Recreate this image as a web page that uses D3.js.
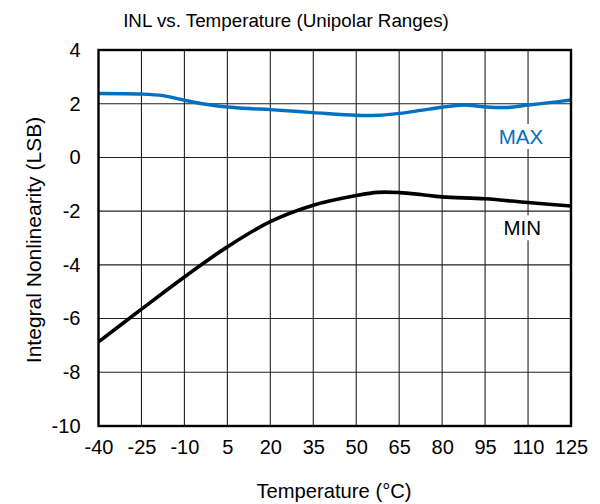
<!DOCTYPE html>
<html>
<head>
<meta charset="utf-8">
<script src="https://cdn.jsdelivr.net/npm/d3@7"></script>
<style>
  body { margin: 0; background: #fff; }
  text { font-family: "Liberation Sans", Arial, sans-serif; fill: #000; }
</style>
</head>
<body>
<svg width="600" height="504"></svg>
<script>
const xTicks = [-40, -25, -10, 5, 20, 35, 50, 65, 80, 95, 110, 125];
const yTicks = [-10, -8, -6, -4, -2, 0, 2, 4];

const maxTemp = [-40, -25, -17.5, -10, -2.5, 5, 12.5, 20, 35, 50, 57.5, 65, 72.5, 80, 87.5, 95, 102.5, 110, 117.5, 125];
const maxInl  = [2.38, 2.36, 2.30, 2.13, 1.98, 1.88, 1.82, 1.78, 1.67, 1.57, 1.57, 1.64, 1.75, 1.87, 1.95, 1.88, 1.86, 1.95, 2.04, 2.14];

const minTemp = [-40, -25, -10, 5, 20, 35, 50, 57.5, 65, 72.5, 80, 95, 110, 125];
const minInl  = [-6.87, -5.65, -4.45, -3.33, -2.39, -1.78, -1.42, -1.30, -1.31, -1.38, -1.47, -1.54, -1.68, -1.81];

const svg = d3.select("svg");
const pL = 98.5, pR = 571, pT = 50, pB = 426;

const x = d3.scaleLinear().domain([-40, 125]).range([pL, pR]);
const y = d3.scaleLinear().domain([-10, 4]).range([pB, pT]);

// grid
svg.append("g").selectAll("line")
  .data(xTicks.slice(1, -1))
  .enter().append("line")
  .attr("x1", d => x(d)).attr("x2", d => x(d))
  .attr("y1", pT).attr("y2", pB)
  .attr("stroke", "#222").attr("stroke-width", 1.1);

svg.append("g").selectAll("line")
  .data(yTicks.slice(1, -1))
  .enter().append("line")
  .attr("x1", pL).attr("x2", pR)
  .attr("y1", d => y(d)).attr("y2", d => y(d))
  .attr("stroke", "#222").attr("stroke-width", 1.1);

// series
const line = d3.line()
  .x(d => x(d[0]))
  .y(d => y(d[1]))
  .curve(d3.curveCatmullRom.alpha(0.5));

svg.append("path")
  .datum(d3.zip(maxTemp, maxInl))
  .attr("d", line)
  .attr("fill", "none")
  .attr("stroke", "#0070C0")
  .attr("stroke-width", 3.4);

svg.append("path")
  .datum(d3.zip(minTemp, minInl))
  .attr("d", line)
  .attr("fill", "none")
  .attr("stroke", "#000")
  .attr("stroke-width", 3.6);

// series labels with white backing
function label(txt, tx, ty, color) {
  const g = svg.append("g");
  const t = g.append("text")
    .attr("x", x(tx)).attr("y", y(ty))
    .attr("text-anchor", "middle")
    .attr("font-size", 20.5)
    .style("fill", color)
    .text(txt);
  const b = t.node().getBBox();
  g.insert("rect", "text")
    .attr("x", b.x - 1).attr("y", b.y - 1)
    .attr("width", b.width + 2).attr("height", b.height + 2)
    .attr("fill", "#fff");
}
label("MAX", 107.5, 0.5, "#0070C0");
label("MIN", 108, -2.9, "#000");

// frame
svg.append("rect")
  .attr("x", pL).attr("y", pT)
  .attr("width", pR - pL).attr("height", pB - pT)
  .attr("fill", "none")
  .attr("stroke", "#000")
  .attr("stroke-width", 2.4);

// axes
const fmt = d => String(d);
const xAxis = svg.append("g")
  .attr("transform", `translate(0,${pB})`)
  .call(d3.axisBottom(x).tickValues(xTicks).tickFormat(fmt).tickSize(0).tickPadding(14));
xAxis.select(".domain").remove();
xAxis.selectAll("text").attr("font-size", 20).attr("font-family", null);

const yAxis = svg.append("g")
  .attr("transform", `translate(${pL},0)`)
  .call(d3.axisLeft(y).tickValues(yTicks).tickFormat(fmt).tickSize(0).tickPadding(18));
yAxis.select(".domain").remove();
yAxis.selectAll("text").attr("font-size", 20).attr("font-family", null);

// titles
svg.append("text")
  .attr("x", 286).attr("y", 27)
  .attr("text-anchor", "middle")
  .attr("font-size", 18.8)
  .text("INL vs. Temperature (Unipolar Ranges)");

svg.append("text")
  .attr("x", 334).attr("y", 498)
  .attr("text-anchor", "middle")
  .attr("font-size", 20.2)
  .text("Temperature (°C)");

svg.append("text")
  .attr("transform", "translate(41,240) rotate(-90)")
  .attr("text-anchor", "middle")
  .attr("font-size", 21)
  .text("Integral Nonlinearity (LSB)");
</script>
</body>
</html>
